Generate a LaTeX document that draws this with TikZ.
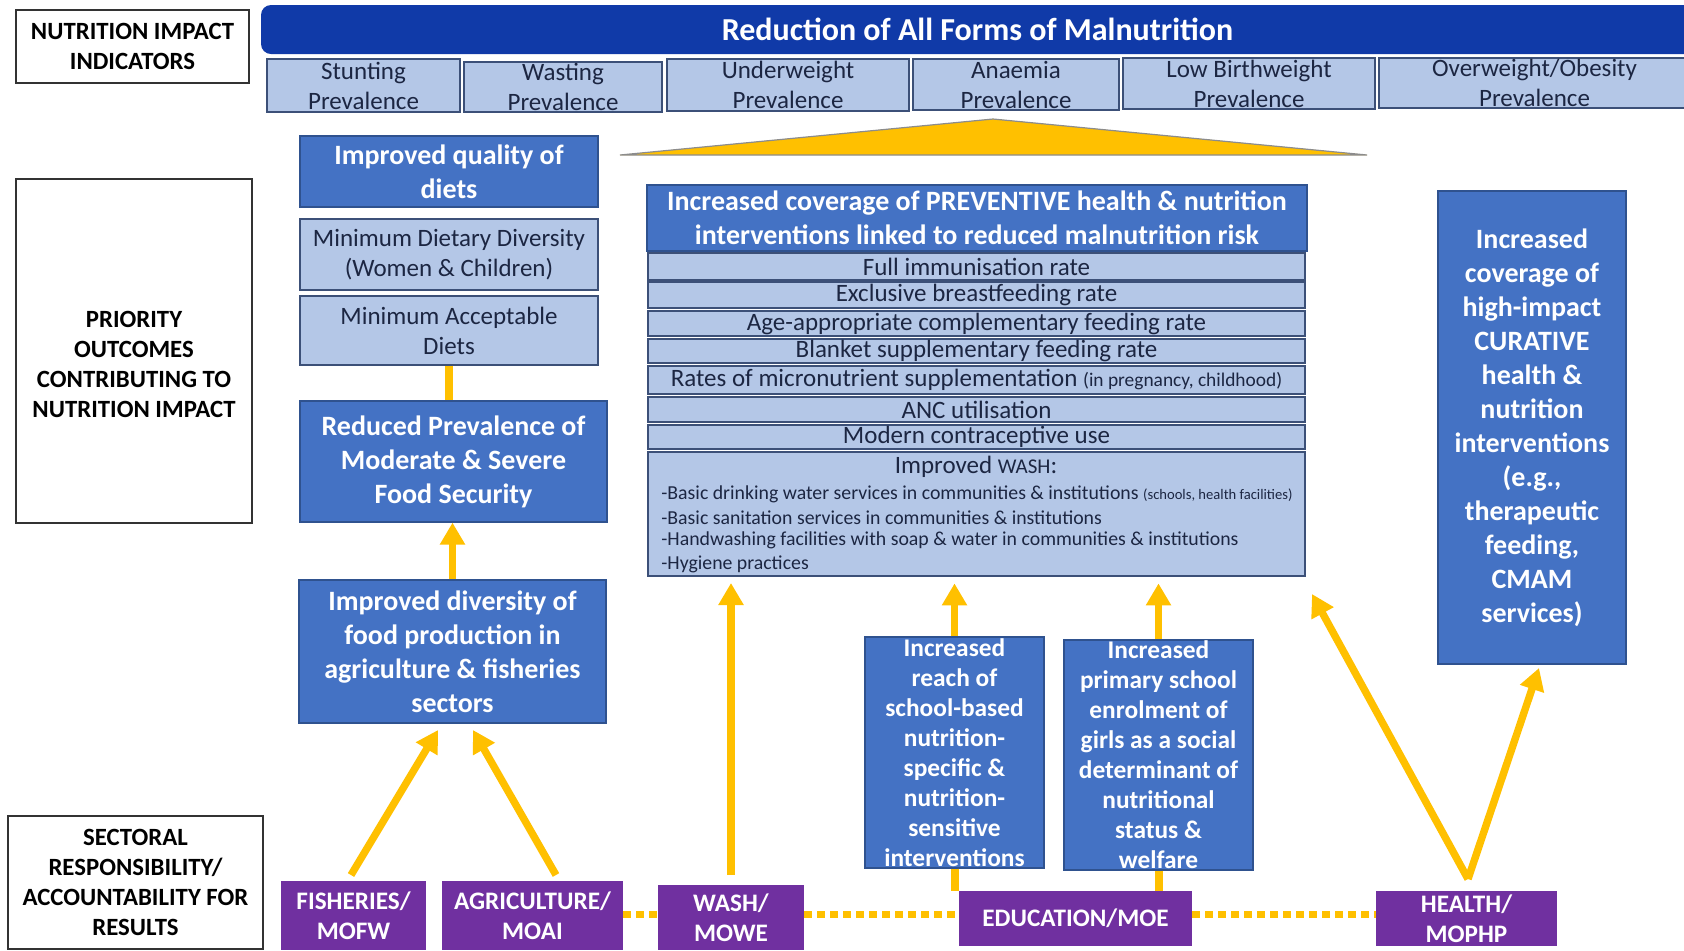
\documentclass[tikz,border=0pt]{standalone}
\usepackage{fontspec}
\setmainfont{Carlito}
\usetikzlibrary{arrows.meta}
\definecolor{dblue}{RGB}{16,58,168}
\definecolor{mblue}{RGB}{68,114,196}
\definecolor{bborder}{RGB}{47,82,143}
\definecolor{lblue}{RGB}{180,199,231}
\definecolor{lborder}{RGB}{60,80,120}
\definecolor{ltext}{RGB}{28,38,66}
\definecolor{purp}{RGB}{112,48,160}
\definecolor{yel}{RGB}{255,192,0}
\newcommand\bx[7]{\node[#6, minimum width={(#4-#2)*0.5pt}, minimum height={(#5-#3)*0.5pt}] (#1) at ({(#2+#4)/2},{(#3+#5)/2}) {#7};}
\tikzset{
 lbl/.style={draw=black!80, line width=0.6pt, fill=white, align=center, font=\fontsize{12.4}{15}\selectfont\bfseries, text=black, inner sep=0pt},
 lbltxt/.style={align=center, font=\fontsize{12.4}{15}\selectfont\bfseries, text=black, inner sep=0pt},
 dbox/.style={fill=mblue, draw=bborder, line width=0.6pt, text=white, align=center, font=\fontsize{14}{17}\selectfont\bfseries, inner sep=0pt},
 lbox/.style={fill=lblue, draw=lborder, line width=0.6pt, text=ltext, align=center, font=\fontsize{12.5}{15}\selectfont, inner sep=0pt},
 rowbox/.style={lbox, font=\fontsize{12.5}{13}\selectfont},
 ebox/.style={dbox, font=\fontsize{12.7}{15}\selectfont\bfseries},
 pbox/.style={fill=purp, draw=none, text=white, align=center, font=\fontsize{12.6}{15}\selectfont\bfseries, inner sep=0pt},
 banner/.style={fill=dblue, draw=none, rounded corners=5pt, text=white, font=\fontsize{16}{18}\selectfont\bfseries, inner sep=0pt},
 yarrow/.style={draw=yel, line width=3.7pt, -{Triangle[length=11pt,width=12pt]}},
 yline/.style={draw=yel, line width=4pt},
 ydots/.style={draw=yel, line width=3.5pt, dash pattern=on 4pt off 2.5pt},
 washtxt/.style={anchor=west, text=ltext, inner sep=0pt, font=\fontsize{9.9}{11}\selectfont},
}
\begin{document}
\begin{tikzpicture}[x=0.5pt,y=-0.5pt]
\clip (0,0) rectangle (1684,950);
\fill[white] (0,0) rectangle (1684,950);
% banner and indicators
\bx{banner}{261}{5}{1710}{54}{banner}{\hspace*{-8pt}Reduction of All Forms of Malnutrition}
\bx{stunt}{267}{59}{460}{112}{lbox}{Stunting\\Prevalence}
\bx{wast}{464}{62}{662}{112}{lbox}{Wasting\\Prevalence}
\bx{under}{667}{59}{909}{111}{lbox}{Underweight\\Prevalence}
\bx{anaem}{913}{59}{1119}{110}{lbox}{Anaemia\\Prevalence}
\bx{lowbw}{1123}{58}{1375}{109}{lbox}{Low Birthweight\\Prevalence}
\bx{overw}{1379}{58}{1690}{108}{lbox}{Overweight/Obesity\\Prevalence}
% left labels
\bx{lab1}{16}{10}{249}{83}{lbl}{NUTRITION IMPACT\\INDICATORS}
\bx{lab2}{16}{179}{252}{523}{lbl}{}
\node[lbltxt] (lab2t) at (134,364) {PRIORITY\\OUTCOMES\\CONTRIBUTING TO\\NUTRITION IMPACT};
\bx{lab3}{8}{816}{263}{949}{lbl}{SECTORAL\\RESPONSIBILITY/\\ACCOUNTABILITY FOR\\RESULTS}
% triangle
\filldraw[fill=yel, draw=black!45, line width=0.6pt] (620,155) -- (993,119) -- (1367,155) -- cycle;
% food column
\bx{qual}{300}{136}{598}{207}{dbox}{Improved quality of\\diets}
\bx{mdd}{300}{219}{598}{290}{lbox}{Minimum Dietary Diversity\\(Women \& Children)}
\bx{mad}{300}{296}{598}{365}{lbox}{Minimum Acceptable\\Diets}
\bx{red}{300}{401}{607}{522}{dbox}{Reduced Prevalence of\\Moderate \& Severe\\Food Security}
\bx{div}{299}{580}{606}{723}{dbox}{Improved diversity of\\food production in\\agriculture \& fisheries\\sectors}
% preventive column
\bx{prev}{647}{185}{1307}{251}{dbox}{Increased coverage of PREVENTIVE health \& nutrition\\interventions linked to reduced malnutrition risk}
\bx{r1}{648}{253}{1305}{280}{rowbox}{Full immunisation rate}
\bx{r2}{648}{282}{1305}{308}{rowbox}{Exclusive breastfeeding rate}
\bx{r3}{648}{311}{1305}{336}{rowbox}{Age-appropriate complementary feeding rate}
\bx{r4}{648}{339}{1305}{363}{rowbox}{Blanket supplementary feeding rate}
\bx{r5}{648}{366}{1305}{394}{rowbox}{Rates of micronutrient supplementation {\fontsize{9.7}{10}\selectfont (in pregnancy, childhood)}}
\bx{r6}{648}{397}{1305}{422}{rowbox}{ANC utilisation}
\bx{r7}{648}{425}{1305}{449}{rowbox}{Modern contraceptive use}
\bx{wash}{648}{452}{1305}{576}{lbox}{}
\node[text=ltext, inner sep=0pt, font=\fontsize{12.5}{13}\selectfont] (washh) at (976,467) {Improved {\fontsize{10.5}{11}\selectfont WASH}:};
\node[washtxt] (w1) at (661,494) {-Basic drinking water services in communities \& institutions {\fontsize{7.3}{8}\selectfont (schools, health facilities)}};
\node[washtxt] (w2) at (661,518) {-Basic sanitation services in communities \& institutions};
\node[washtxt] (w3) at (661,540) {-Handwashing facilities with soap \& water in communities \& institutions};
\node[washtxt] (w4) at (661,564) {-Hygiene practices};
% curative
\bx{cur}{1438}{191}{1626}{664}{dbox}{Increased\\coverage of\\high-impact\\CURATIVE\\health \&\\nutrition\\interventions\\(e.g.,\\therapeutic\\feeding,\\CMAM\\services)}
% education boxes
\bx{reach}{865}{637}{1044}{868}{ebox}{Increased\\reach of\\school-based\\nutrition-\\specific \&\\nutrition-\\sensitive\\interventions}
\bx{prim}{1064}{640}{1253}{870}{ebox}{Increased\\primary school\\enrolment of\\girls as a social\\determinant of\\nutritional\\status \&\\welfare}
% sectors
\bx{fish}{281}{881}{426}{950}{pbox}{FISHERIES/\\MOFW}
\bx{agri}{442}{881}{623}{950}{pbox}{AGRICULTURE/\\MOAI}
\bx{washm}{658}{885}{804}{950}{pbox}{WASH/\\MOWE}
\bx{edu}{959}{891}{1192}{946}{pbox}{EDUCATION/MOE}
\bx{health}{1376}{891}{1557}{946}{pbox}{HEALTH/\\MOPHP}
% coordinates
\coordinate (fs) at (351,875);
\coordinate (fe) at (438,730);
\coordinate (as) at (556,875);
\coordinate (ae) at (473,730);
\coordinate (ws) at (731,875);
\coordinate (we) at (731,583);
\coordinate (hv) at (1468,879);
\coordinate (he) at (1312,594);
\coordinate (ce) at (1539,668);
\coordinate (dy) at (0,914);
% connectors
\draw[yline] (mad.south) -- (mad.south |- red.north);
\draw[yarrow] (div.north) -- (div.north |- red.south);
\draw[yarrow] (fs) -- (fe);
\draw[yarrow] (as) -- (ae);
\draw[yarrow] (ws) -- (we);
\draw[yarrow] (reach.north) -- ++(0,-53);
\draw[yarrow] (prim.north) -- ++(0,-56);
\draw[yline] (reach.south) -- (reach.south |- edu.north);
\draw[yline] (prim.south) -- (prim.south |- edu.north);
\draw[yarrow] (hv) -- (he);
\draw[yarrow] (hv) -- (ce);
\draw[ydots] (agri.east |- dy) -- (washm.west |- dy);
\draw[ydots] (washm.east |- dy) -- (edu.west |- dy);
\draw[ydots] (edu.east |- dy) -- (health.west |- dy);
\end{tikzpicture}
\end{document}
